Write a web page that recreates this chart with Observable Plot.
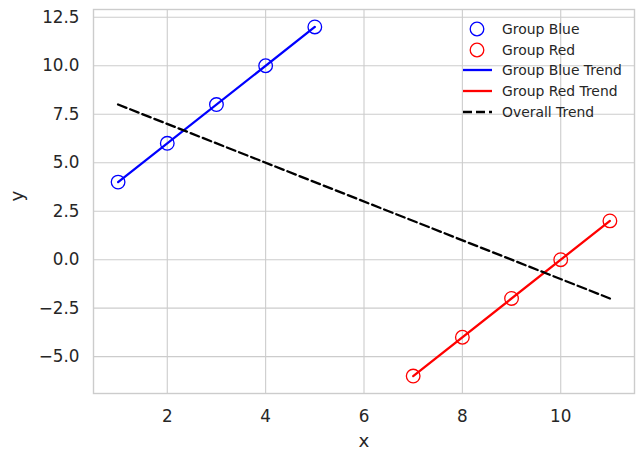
<!DOCTYPE html>
<html><head><meta charset="utf-8">
<script src="https://cdn.jsdelivr.net/npm/d3@7"></script>
<script src="https://cdn.jsdelivr.net/npm/@observablehq/plot@0.6"></script>
<style>
body{margin:0;background:#fff;}
#wrap{position:relative;width:644px;height:460px;font-family:"DejaVu Sans",sans-serif;}
#legend{position:absolute;left:0;top:0;font-size:13.9px;color:#262626;}
.item{position:absolute;height:20px;display:flex;align-items:center;white-space:nowrap;}
.item svg{margin-right:6px;}
</style></head>
<body><div id="wrap"><div id="chart"></div><div id="legend"></div></div>
<script>
const blueX = [1, 2, 3, 4, 5];
const blueY = [4, 6, 8, 10, 12];
const redX = [7, 8, 9, 10, 11];
const redY = [-6, -4, -2, 0, 2];
const xTicks = [2, 4, 6, 8, 10];
const yTicks = [-5, -2.5, 0, 2.5, 5, 7.5, 10, 12.5];
const legendLabels = ["Group Blue", "Group Red", "Group Blue Trend", "Group Red Trend", "Overall Trend"];

const blue = blueX.map((x, i) => ({x, y: blueY[i]}));
const red = redX.map((x, i) => ({x, y: redY[i]}));
const all = blue.concat(red);

const chart = Plot.plot({
  width: 644, height: 460,
  marginLeft: 93, marginRight: 10, marginTop: 9, marginBottom: 67,
  style: {fontFamily: "DejaVu Sans", fontSize: "16.8px", color: "#262626", background: "#fff"},
  x: {domain: [0.5, 11.5]},
  y: {domain: [-6.9, 12.9]},
  marks: [
    Plot.gridX(xTicks, {stroke: "#cccccc", strokeOpacity: 1, strokeWidth: 1.1}),
    Plot.gridY(yTicks, {stroke: "#cccccc", strokeOpacity: 1, strokeWidth: 1.1}),
    Plot.frame({stroke: "#cccccc", strokeWidth: 1.4}),
    Plot.axisX(xTicks, {tickSize: 0, tickPadding: 17, label: null, fill: "#262626", fontSize: 16.8}),
    Plot.axisY(yTicks, {tickSize: 0, tickPadding: 14, label: null, tickFormat: d3.format(".1f"), fill: "#262626", fontSize: 16.8}),
    Plot.text(["x"], {frameAnchor: "bottom", dy: 53, fontSize: 18.3, fill: "#262626"}),
    Plot.text(["y"], {frameAnchor: "left", dx: -76, rotate: -90, fontSize: 18.3, fill: "#262626"}),
    Plot.dot(blue, {x: "x", y: "y", r: 6.8, stroke: "blue", strokeWidth: 1.3, fill: "none"}),
    Plot.dot(red, {x: "x", y: "y", r: 6.8, stroke: "red", strokeWidth: 1.3, fill: "none"}),
    Plot.linearRegressionY(blue, {x: "x", y: "y", stroke: "blue", strokeWidth: 2.3, ci: 0}),
    Plot.linearRegressionY(red, {x: "x", y: "y", stroke: "red", strokeWidth: 2.3, ci: 0}),
    Plot.linearRegressionY(all, {x: "x", y: "y", stroke: "black", strokeWidth: 2.3, strokeDasharray: "9,4", ci: 0})
  ]
});
document.getElementById("chart").appendChild(chart);

const handles = [
  '<svg width="34" height="20"><circle cx="15" cy="10" r="6.8" fill="none" stroke="blue" stroke-width="1.3"/></svg>',
  '<svg width="34" height="20"><circle cx="15" cy="10" r="6.8" fill="none" stroke="red" stroke-width="1.3"/></svg>',
  '<svg width="34" height="20"><line x1="1" x2="30" y1="10" y2="10" stroke="blue" stroke-width="2.3"/></svg>',
  '<svg width="34" height="20"><line x1="1" x2="30" y1="10" y2="10" stroke="red" stroke-width="2.3"/></svg>',
  '<svg width="34" height="20"><line x1="1" x2="30" y1="10" y2="10" stroke="black" stroke-width="2.3" stroke-dasharray="9,4"/></svg>'
];
const rowY = [29, 49.7, 70.4, 91.1, 111.8];
const leg = document.getElementById("legend");
legendLabels.forEach((t, i) => {
  const d = document.createElement("div");
  d.className = "item";
  d.style.left = "462px";
  d.style.top = (rowY[i] - 10) + "px";
  d.innerHTML = handles[i] + "<span>" + t + "</span>";
  leg.appendChild(d);
});
</script></body></html>
